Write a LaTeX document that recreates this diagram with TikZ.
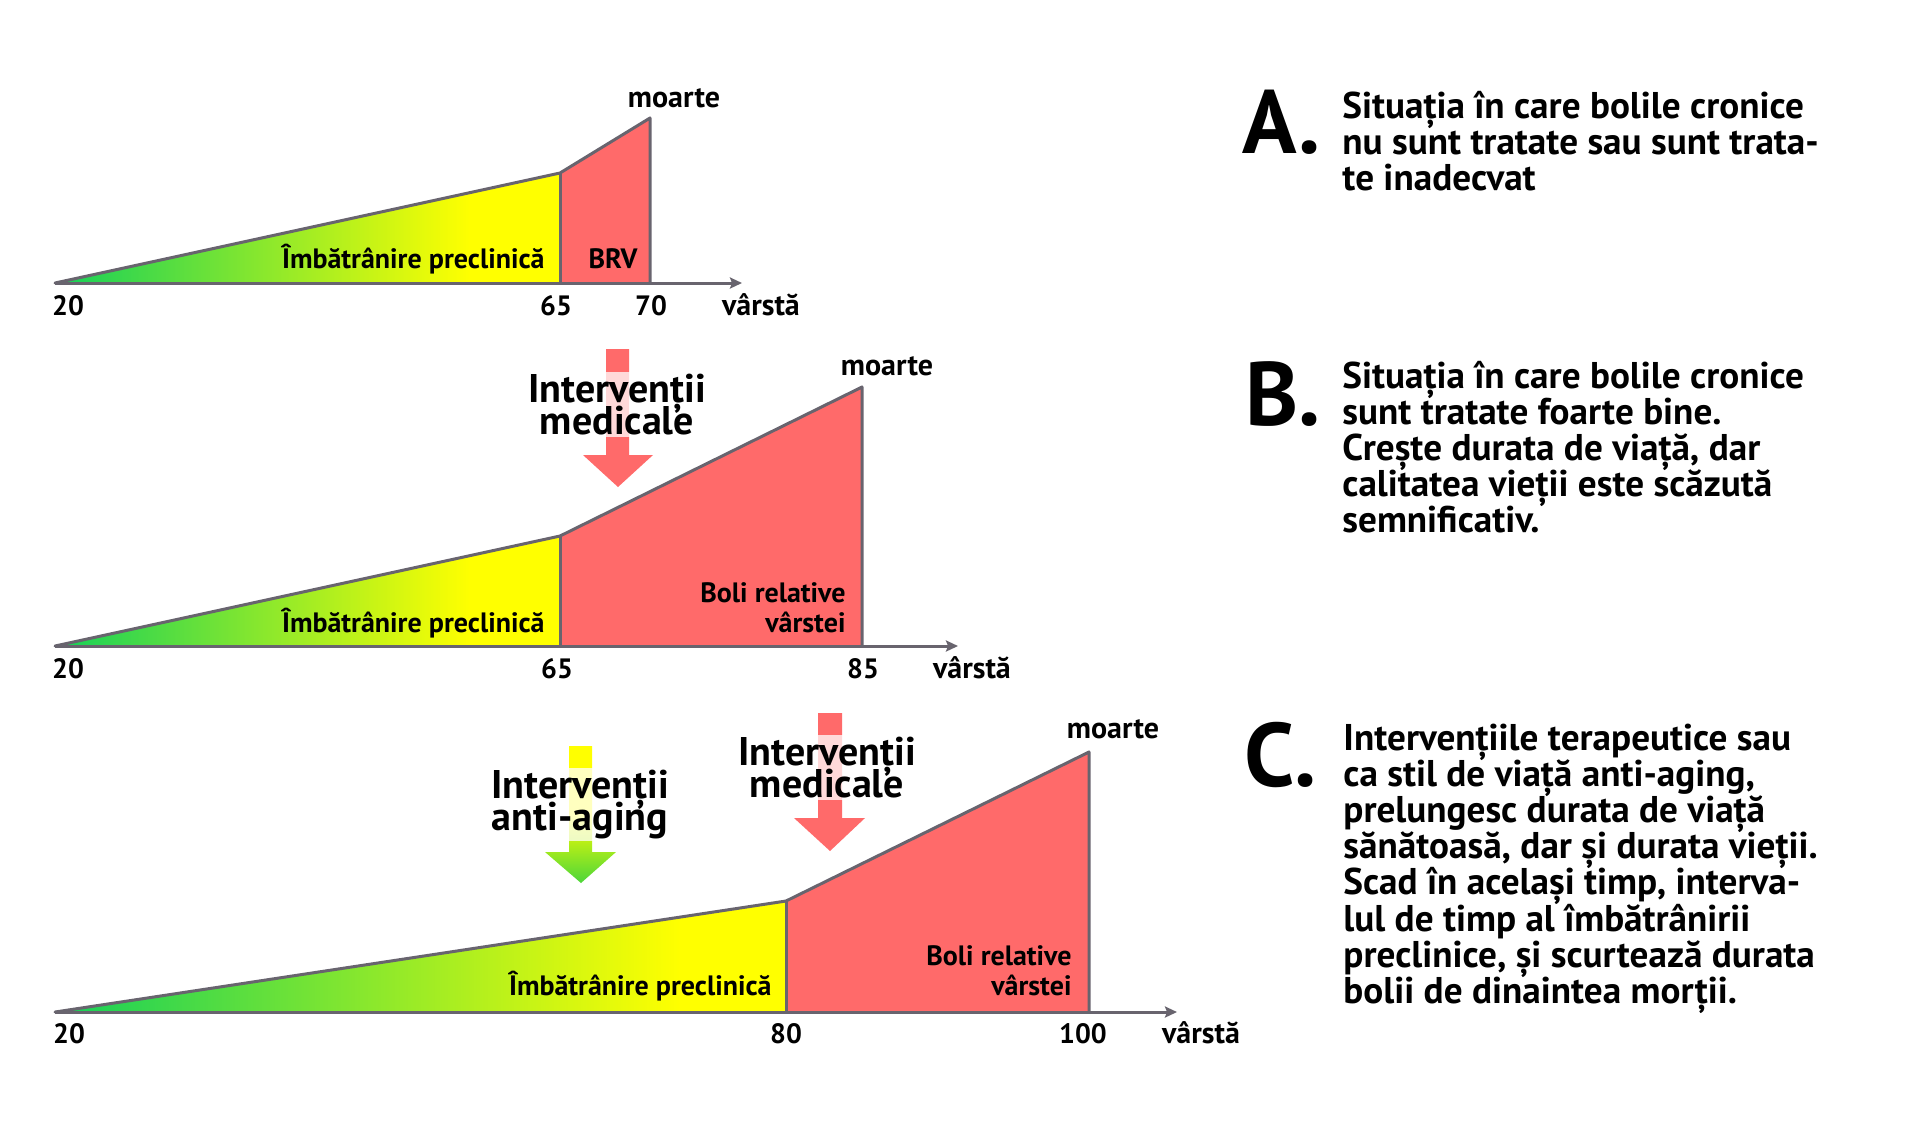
\documentclass[tikz,border=0pt]{standalone}
\usepackage{fontspec}
\setmainfont{PT Sans}
\usetikzlibrary{arrows.meta}
\definecolor{agegreen}{RGB}{20,208,90}
\definecolor{ageyellow}{RGB}{255,255,0}
\definecolor{agered}{RGB}{255,106,106}
\definecolor{edgegray}{RGB}{104,100,110}
\definecolor{arrowgreen}{RGB}{68,212,60}
\tikzset{
  outline/.style={draw=edgegray, line width=1.5pt, line join=round, line cap=round},
  axisline/.style={draw=edgegray, line width=1.5pt, -{Stealth[length=6pt,width=5.5pt,inset=1pt]}},
  lbl/.style={font=\fontsize{14}{14}\selectfont\bfseries, inner sep=0pt},
  wlbl/.style={font=\fontsize{15}{15}\selectfont\bfseries, inner sep=0pt},
  intlbl/.style={inner sep=1pt, fill=white, fill opacity=0.75, text opacity=1},
  bigletter/.style={font=\fontsize{45}{45}\selectfont\bfseries, inner sep=0pt, anchor=base west},
  para/.style={inner sep=0pt, anchor=base west},
}
\newcommand{\intertext}[1]{\parbox[t]{100pt}{\centering\fontsize{20}{16}\selectfont\bfseries\lineskiplimit=-100pt #1}}
\newcommand{\paratext}[1]{\parbox[t]{255pt}{\raggedright\fontsize{18.6}{18.1}\selectfont\bfseries\lineskiplimit=-100pt #1}}
\begin{document}
\begin{tikzpicture}[x=0.5pt,y=-0.5pt]
\useasboundingbox (0,0) rectangle (1920,1132);

% ================= A =================
\coordinate (a0) at (55,283);
\coordinate (a1) at (560,173);
\coordinate (a1b) at (560,283);
\coordinate (a2) at (650,118);
\coordinate (a2b) at (650,283);
\coordinate (aend) at (742,283);
\begin{scope}
  \clip (a0) -- (a1) -- (a1b) -- cycle;
  \shade[left color=agegreen, right color=ageyellow] (55,100) rectangle (470,290);
  \fill[ageyellow] (469,100) rectangle (565,290);
\end{scope}
\fill[agered] (a1) -- (a2) -- (a2b) -- (a1b) -- cycle;
\draw[outline] (a0) -- (a1) -- (a2) -- (a2b);
\draw[outline] (a1) -- (a1b);
\draw[axisline] (a0) -- (aend);
\node[lbl, anchor=base] (a20) at (68,315) {20};
\node[lbl, anchor=base] (a65) at (556,315) {65};
\node[lbl, anchor=base] (a70) at (651,315) {70};
\node[wlbl, anchor=base] (avarsta) at (761,315) {vârstă};
\node[wlbl, anchor=base] (amoarte) at (674,107) {moarte};
\node[lbl, anchor=base east] (apre) at (545,268) {Îmbătrânire preclinică};
\node[lbl, anchor=base] (abrv) at (613,268) {BRV};

% ================= B =================
\coordinate (b0) at (55,646);
\coordinate (b1) at (560,536);
\coordinate (b1b) at (560,646);
\coordinate (b2) at (862,387);
\coordinate (b2b) at (862,646);
\coordinate (bend) at (958,646);
\begin{scope}
  \clip (b0) -- (b1) -- (b1b) -- cycle;
  \shade[left color=agegreen, right color=ageyellow] (55,500) rectangle (470,650);
  \fill[ageyellow] (469,500) rectangle (565,650);
\end{scope}
\fill[agered] (b1) -- (b2) -- (b2b) -- (b1b) -- cycle;
\draw[outline] (b0) -- (b1) -- (b2) -- (b2b);
\draw[outline] (b1) -- (b1b);
\draw[axisline] (b0) -- (bend);
\node[lbl, anchor=base] (b20) at (68,678) {20};
\node[lbl, anchor=base] (b65) at (557,678) {65};
\node[lbl, anchor=base] (b85) at (863,678) {85};
\node[wlbl, anchor=base] (bvarsta) at (972,678) {vârstă};
\node[wlbl, anchor=base] (bmoarte) at (887,375) {moarte};
\node[lbl, anchor=base east] (bpre) at (545,632) {Îmbătrânire preclinică};
\node[lbl, anchor=base east] (bboli) at (846,602) {Boli relative};
\node[lbl, anchor=base east] (bvar) at (846,632) {vârstei};
% medical arrow B
\fill[agered] (606,349) -- (629,349) -- (629,455) -- (653,455) -- (618,487) -- (583,455) -- (606,455) -- cycle;
\node[intlbl, anchor=base] (bmed) at (617,402) {\intertext{Intervenții\\medicale}};

% ================= C =================
\coordinate (c0) at (55,1012);
\coordinate (c1) at (786,901);
\coordinate (c1b) at (786,1012);
\coordinate (c2) at (1089,752);
\coordinate (c2b) at (1089,1012);
\coordinate (cend) at (1177,1012);
\begin{scope}
  \clip (c0) -- (c1) -- (c1b) -- cycle;
  \shade[left color=agegreen, right color=ageyellow] (55,880) rectangle (680,1020);
  \fill[ageyellow] (679,880) rectangle (790,1020);
\end{scope}
\fill[agered] (c1) -- (c2) -- (c2b) -- (c1b) -- cycle;
\draw[outline] (c0) -- (c1) -- (c2) -- (c2b);
\draw[outline] (c1) -- (c1b);
\draw[axisline] (c0) -- (cend);
\node[lbl, anchor=base] (c20) at (69,1043) {20};
\node[lbl, anchor=base] (c80) at (786,1043) {80};
\node[lbl, anchor=base] (c100) at (1083,1043) {100};
\node[wlbl, anchor=base] (cvarsta) at (1201,1043) {vârstă};
\node[wlbl, anchor=base] (cmoarte) at (1113,738) {moarte};
\node[lbl, anchor=base east] (cpre) at (772,995) {Îmbătrânire preclinică};
\node[lbl, anchor=base east] (cboli) at (1072,965) {Boli relative};
\node[lbl, anchor=base east] (cvar) at (1072,995) {vârstei};
% anti-aging arrow
\begin{scope}
  \clip (569,746) -- (592,746) -- (592,852) -- (616,852) -- (581,883) -- (545,852) -- (569,852) -- cycle;
  \fill[ageyellow] (540,740) rectangle (620,816);
  \shade[top color=ageyellow, bottom color=arrowgreen] (540,815) rectangle (620,886);
\end{scope}
% medical arrow C
\fill[agered] (818,713) -- (842,713) -- (842,818) -- (865,818) -- (830,851) -- (794,818) -- (818,818) -- cycle;
\node[intlbl, anchor=base] (canti) at (580,798) {\intertext{Intervenții\\anti-aging}};
\node[intlbl, anchor=base] (cmed) at (827,765) {\intertext{Intervenții\\medicale}};

% ================= right texts =================
\node[bigletter] (letA) at (1242,153) {A.};
\node[para] (txtA) at (1342,118) {\paratext{Situația în care bolile cronice\\nu sunt tratate sau sunt trata-\\te inadecvat}};
\node[bigletter] (letB) at (1245,425) {B.};
\node[para] (txtB) at (1342,388) {\paratext{Situația în care bolile cronice\\sunt tratate foarte bine.\\Crește durata de viață, dar\\calitatea vieții este scăzută\\semnificativ.}};
\node[bigletter] (letC) at (1244,786) {C.};
\node[para] (txtC) at (1343,750) {\paratext{Intervențiile terapeutice sau\\ca stil de viață anti-aging,\\prelungesc durata de viață\\sănătoasă, dar și durata vieții.\\Scad în același timp, interva-\\lul de timp al îmbătrânirii\\preclinice, și scurtează durata\\bolii de dinaintea morții.}};
\end{tikzpicture}
\end{document}
